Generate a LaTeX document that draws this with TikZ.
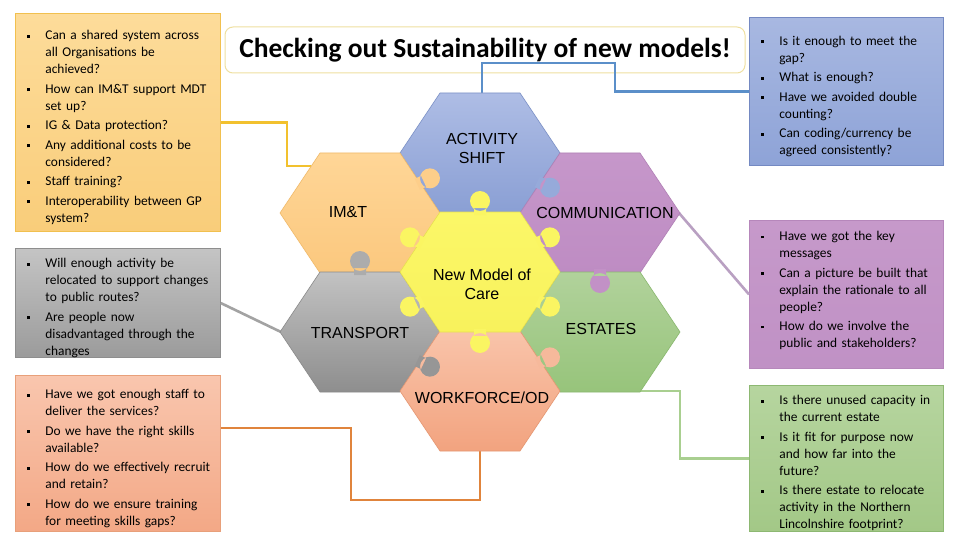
\documentclass[tikz,border=0pt]{standalone}
\usepackage{fontspec}
\setmainfont{Carlito}
\newfontfamily\arialfont{Liberation Sans}
\usepackage{xcolor}
\usepackage{tikz}
\usetikzlibrary{calc,positioning}

% connectors and title
\definecolor{lnYel}{HTML}{F2C12E}
\definecolor{lnBlu}{HTML}{5B8FC9}
\definecolor{lnGry}{HTML}{A3A3A3}
\definecolor{lnPur}{HTML}{B9A0C2}
\definecolor{lnOra}{HTML}{E0843C}
\definecolor{lnGrn}{HTML}{A9CF90}
\definecolor{ttlEdge}{HTML}{EFE0A0}
% question boxes
\definecolor{qYelT}{HTML}{FDDC9A}\definecolor{qYelB}{HTML}{F9CD7A}\definecolor{qYelE}{HTML}{F1C04F}
\definecolor{qGryT}{HTML}{C4C4C4}\definecolor{qGryB}{HTML}{9B9B9B}\definecolor{qGryE}{HTML}{8E8E8E}
\definecolor{qOraT}{HTML}{F9C6AE}\definecolor{qOraB}{HTML}{F3A886}\definecolor{qOraE}{HTML}{E8A07A}
\definecolor{qBluT}{HTML}{A8B8E1}\definecolor{qBluB}{HTML}{8EA3D7}\definecolor{qBluE}{HTML}{7489C2}
\definecolor{qPurT}{HTML}{C699CA}\definecolor{qPurB}{HTML}{C091C5}\definecolor{qPurE}{HTML}{B687BB}
\definecolor{qGrnT}{HTML}{B6D59F}\definecolor{qGrnB}{HTML}{A3C887}\definecolor{qGrnE}{HTML}{8DB872}
% puzzle pieces
\definecolor{hActT}{HTML}{AEBDE5}\definecolor{hActB}{HTML}{8A9FD4}\definecolor{hActE}{HTML}{7C91C6}
\definecolor{hImtT}{HTML}{FFD697}\definecolor{hImtB}{HTML}{FBC87E}\definecolor{hImtE}{HTML}{F0BA6A}
\definecolor{hComT}{HTML}{C697CA}\definecolor{hComB}{HTML}{BE8CC3}\definecolor{hComE}{HTML}{B181B6}
\definecolor{hTraT}{HTML}{C2C2C2}\definecolor{hTraB}{HTML}{8E8E8E}\definecolor{hTraE}{HTML}{8A8A8A}
\definecolor{hEstT}{HTML}{B1D29B}\definecolor{hEstB}{HTML}{97C47B}\definecolor{hEstE}{HTML}{8AB86F}
\definecolor{hWrkT}{HTML}{F9C4AA}\definecolor{hWrkB}{HTML}{F2A37F}\definecolor{hWrkE}{HTML}{E59772}
\definecolor{hNmcT}{HTML}{FBF768}\definecolor{hNmcB}{HTML}{F8F25C}\definecolor{hNmcE}{HTML}{E8E050}
\definecolor{kImt}{HTML}{FDCE8A}
\definecolor{kAct}{HTML}{96AADA}
\definecolor{kTra}{HTML}{ACACAC}
\definecolor{kCom}{HTML}{C291C6}
\definecolor{kTra2}{HTML}{969696}
\definecolor{kWrk}{HTML}{F6B99B}
\definecolor{kNmc}{HTML}{FAF562}

\newcommand{\qfont}{\fontsize{13.4}{17}\selectfont}
\newcommand{\hexfont}{\arialfont\fontsize{16}{19}\selectfont}
% one bullet of a question list
\newcommand{\qi}{\par\vskip 2.5pt\hangindent=24pt\hangafter=1\noindent
  \makebox[24pt][l]{\hspace{6pt}\rule[0.35ex]{2.8pt}{2.8pt}}}
% hexagon at a centre: #1 centre, #2 colour prefix
\newcommand{\hexa}[2]{\shade[top color=#2T, bottom color=#2B, draw=#2E, line width=0.6pt]
  ($(#1)+(-80,0)$) -- ++(40,-60) -- ++(80,0) -- ++(40,60) -- ++(-40,60) -- ++(-80,0) -- cycle;}
% puzzle knob: #1 edge midpoint, #2 direction, #3 colour
\newcommand{\knob}[3]{\fill[#3, shift={(#1)}, rotate=#2] (-3,-6) rectangle (4,6) (11,0) circle[radius=10];}

\begin{document}
\begin{tikzpicture}[x=1pt,y=-1pt,
    qbox/.style={anchor=north west, align=left, inner xsep=6pt, inner ysep=0pt, font=\qfont, line width=0.8pt},
    lbox/.style={qbox, text width=193pt},
    rbox/.style={qbox, text width=182pt},
    link/.style={line width=2.6pt},
    hexlab/.style={font=\hexfont, align=center, inner sep=0pt}]
  \useasboundingbox[fill=white] (0,0) rectangle (960,540);

  % hexagon centres and connector ends
  \coordinate (act) at (480,153);
  \coordinate (imt) at (360,213);
  \coordinate (com) at (600,213);
  \coordinate (nmc) at (480,272);
  \coordinate (tra) at (360,332);
  \coordinate (est) at (600,332);
  \coordinate (wrk) at (480,391);
  \coordinate (act-n) at (482,93);
  \coordinate (imt-in) at (311,166);
  \coordinate (com-e) at (679,213);
  \coordinate (tra-w) at (281,332);
  \coordinate (est-se) at (640,391);
  \coordinate (wrk-s) at (480,450);

  \node[draw=ttlEdge, fill=white, rounded corners=8pt, line width=1pt,
    minimum width=520pt, minimum height=46pt,
    font=\bfseries\fontsize{27.5}{30}\selectfont] (title) at (485,50)
    {Checking out Sustainability of new models!};

  % question boxes
  \node[lbox, minimum height=218pt, top color=qYelT, bottom color=qYelB, draw=qYelE] (qimt) at (15,13) {%
    \qi Can a shared system across\newline all Organisations be\newline achieved?
    \qi How can IM\&T support MDT\newline set up?
    \qi IG \& Data protection?
    \qi Any additional costs to be\newline considered?
    \qi Staff training?
    \qi Interoperability between GP\newline system?\par};
  \node[lbox, minimum height=108pt, top color=qGryT, bottom color=qGryB, draw=qGryE] (qtra) at (15,248) {%
    \qi Will enough activity be\newline relocated to support changes\newline to public routes?
    \qi Are people now\newline disadvantaged through the\newline changes\par};
  \node[lbox, minimum height=156pt, top color=qOraT, bottom color=qOraB, draw=qOraE] (qwrk) at (15,375) {%
    \qi Have we got enough staff to\newline deliver the services?
    \qi Do we have the right skills\newline available?
    \qi How do we effectively recruit\newline and retain?
    \qi How do we ensure training\newline for meeting skills gaps?\par};
  \node[rbox, minimum height=148pt, top color=qBluT, bottom color=qBluB, draw=qBluE] (qact) at (749,17) {%
    \qi Is it enough to meet the\newline gap?
    \qi What is enough?
    \qi Have we avoided double\newline counting?
    \qi Can coding/currency be\newline agreed consistently?\par};
  \node[rbox, minimum height=148pt, top color=qPurT, bottom color=qPurB, draw=qPurE] (qcom) at (749,220) {%
    \qi Have we got the key\newline messages
    \qi Can a picture be built that\newline explain the rationale to all\newline people?
    \qi How do we involve the\newline public and stakeholders?\par\kern 18pt};
  \node[rbox, minimum height=145pt, top color=qGrnT, bottom color=qGrnB, draw=qGrnE] (qest) at (749,385) {%
    \qi Is there unused capacity in\newline the current estate
    \qi Is it fit for purpose now\newline and how far into the\newline future?
    \qi Is there estate to relocate\newline activity in the Northern\newline Lincolnshire footprint?\par};

  % connectors
  \draw[link, lnYel] (qimt.east) -- ++(66,0) |- (imt-in);
  \draw[link, lnBlu] (act-n) |- (615,63) |- (qact.west);
  \draw[link, lnGry] (qtra.east) -- (tra-w);
  \draw[link, lnPur] (com-e) -- (qcom.west);
  \draw[link, lnOra] (wrk-s) -- ++(0,50) -- ++(-129,0) |- ($(qwrk.north east)+(0,53)$);
  \draw[link, lnGrn] (est-se) -- ++(40,0) |- (qest.west);

  % puzzle pieces
  \hexa{act}{hAct}
  \hexa{imt}{hImt}
  \hexa{com}{hCom}
  \hexa{tra}{hTra}
  \hexa{est}{hEst}
  \hexa{wrk}{hWrk}
  \hexa{nmc}{hNmc}

  \knob{420,183}{25}{kImt}
  \knob{540,183}{-25}{kAct}
  \knob{360,272}{90}{kTra}
  \knob{600,272}{-90}{kCom}
  \knob{420,362}{-25}{kTra2}
  \knob{540,362}{25}{kWrk}
  \knob{480,212}{90}{kNmc}
  \knob{420,242}{155}{kNmc}
  \knob{540,242}{25}{kNmc}
  \knob{420,302}{205}{kNmc}
  \knob{540,302}{-25}{kNmc}
  \knob{480,332}{-90}{kNmc}

  % labels
  \node[hexlab] (actlab) at (482,148) {ACTIVITY\\SHIFT};
  \node[hexlab] (imtlab) at (348,212) {IM\&T};
  \node[hexlab] (comlab) at (605,213) {COMMUNICATION};
  \node[hexlab] (nmclab) at (482,284) {New Model of\\Care};
  \node[hexlab] (tralab) at (360,333) {TRANSPORT};
  \node[hexlab] (estlab) at (601,329) {ESTATES};
  \node[hexlab] (wrklab) at (482,398) {WORKFORCE/OD};
\end{tikzpicture}
\end{document}
